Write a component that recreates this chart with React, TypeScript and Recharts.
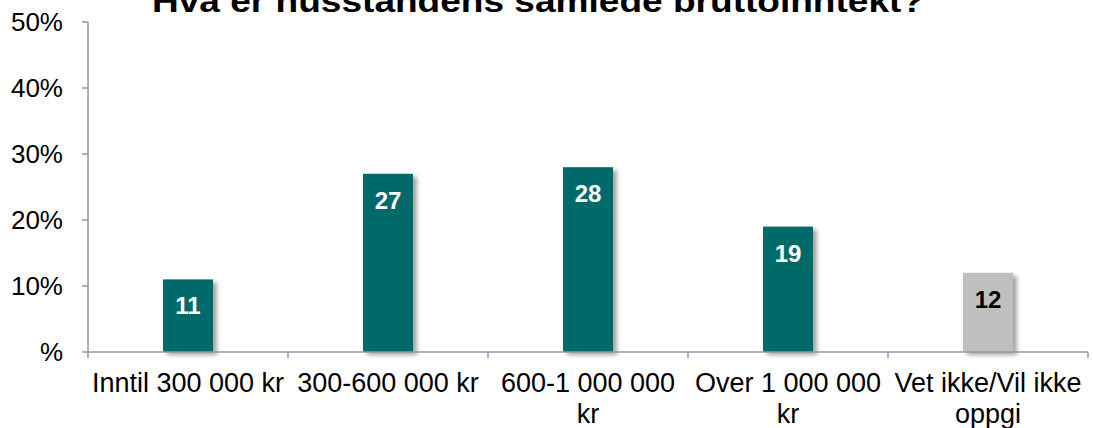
import { BarChart, Bar, XAxis, YAxis, LabelList, Cell } from "recharts"

const categories = [
    "Inntil 300 000 kr",
    "300-600 000 kr",
    "600-1 000 000\nkr",
    "Over 1 000 000\nkr",
    "Vet ikke/Vil ikke\noppgi",
]
const shares = [11, 27, 28, 19, 12]
const barColors = ["#036B6B", "#036B6B", "#036B6B", "#036B6B", "#BFBFBF"]
const labelColors = ["#FFFFFF", "#FFFFFF", "#FFFFFF", "#FFFFFF", "#000000"]
const yTicks = [0, 10, 20, 30, 40, 50]
const title = "Hva er husstandens samlede bruttoinntekt?"

const data = categories.map((name, i) => ({ name, value: shares[i] }))

const axisColor = "#8F98B1"
const font = "'Liberation Sans', Arial, sans-serif"

// category label plus a tick mark on the left edge of each band (and the right edge of the last one)
const CategoryTick = (props: any) => {
    const { x, y, payload, index, visibleTicksCount } = props
    const half = payload.offset ?? 0
    const lines = String(payload.value).split("\n")
    const isLast = index === visibleTicksCount - 1
    return (
        <g>
            <line x1={x - half} x2={x - half} y1={y} y2={y + 6} stroke={axisColor} strokeWidth={1.5} />
            {isLast && <line x1={x + half} x2={x + half} y1={y} y2={y + 6} stroke={axisColor} strokeWidth={1.5} />}
            <text x={x} y={y} textAnchor="middle" fontSize={27} fill="#000" fontFamily={font}>
                {lines.map((line, i) => (
                    <tspan key={i} x={x} dy={i === 0 ? 40 : 31}>{line}</tspan>
                ))}
            </text>
        </g>
    )
}

const ShadowBar = (props: any) => {
    const { x, y, width, height, fill } = props
    return <rect x={x} y={y} width={width} height={height} fill={fill} filter="url(#barShadow)" />
}

const BarLabel = (props: any) => {
    const { x, y, width, value, index } = props
    return (
        <text x={x + width / 2} y={y + 35} textAnchor="middle" fontSize={24} fontWeight="bold"
            fill={labelColors[index]} fontFamily={font}>
            {value}
        </text>
    )
}

export default function App() {
    return (
        <div style={{ position: "absolute", left: 0, top: 0, width: 1093, height: 428, background: "#fff" }}>
            <svg width={1093} height={428} style={{ position: "absolute", left: 0, top: 0, pointerEvents: "none" }}>
                <text x={538} y={12} textAnchor="middle" fontSize={32} fontWeight="bold" fill="#000"
                    fontFamily={font} textLength={772} lengthAdjust="spacingAndGlyphs">
                    {title}
                </text>
            </svg>
            <BarChart width={1093} height={428} data={data}
                margin={{ top: 22, right: 5, left: 0, bottom: 0 }}>
                <defs>
                    <filter id="barShadow" x="-20%" y="-10%" width="150%" height="130%">
                        <feDropShadow dx={4} dy={3} stdDeviation={2} floodColor="#000" floodOpacity={0.35} />
                    </filter>
                </defs>

                <XAxis dataKey="name" height={76} interval={0}
                    axisLine={{ stroke: axisColor, strokeWidth: 1.5 }}
                    tickLine={false} tickSize={0} tickMargin={0}
                    tick={<CategoryTick />} />

                <YAxis domain={[0, 50]} ticks={yTicks} width={88} interval={0}
                    tickSize={6} tickMargin={19}
                    tickFormatter={(v) => v === 0 ? "%" : `${v}%`}
                    tick={{ fill: "#000", fontSize: 26, fontFamily: font }}
                    axisLine={{ stroke: axisColor, strokeWidth: 1.5 }}
                    tickLine={{ stroke: axisColor, strokeWidth: 1.5 }} />

                <Bar dataKey="value" barSize={50} isAnimationActive={false}
                    shape={<ShadowBar />}>
                    {data.map((d, i) => <Cell key={d.name} fill={barColors[i]} />)}
                    <LabelList dataKey="value" content={<BarLabel />} />
                </Bar>
            </BarChart>
        </div>
    )
}
